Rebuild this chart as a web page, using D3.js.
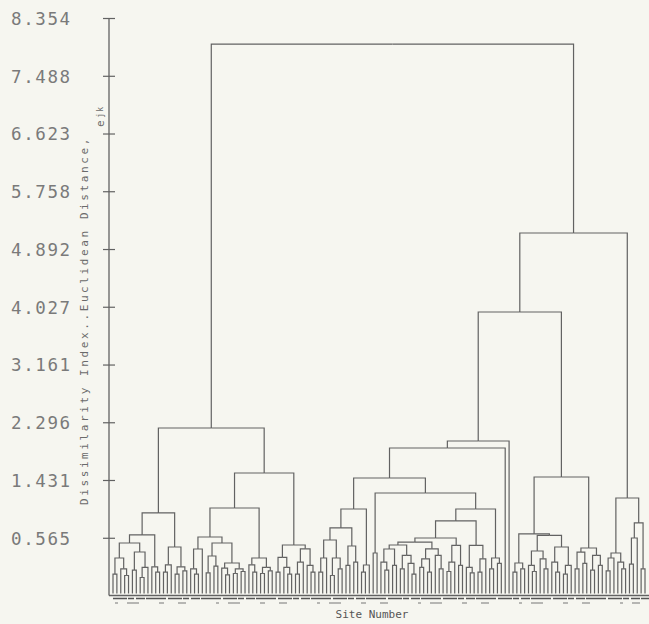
<!DOCTYPE html>
<html>
<head>
<meta charset="utf-8">
<script src="https://cdn.jsdelivr.net/npm/d3@7"></script>
<style>
  html, body { margin: 0; padding: 0; background: #f6f6f0; }
  svg { display: block; }
</style>
</head>
<body>
<div id="chart"></div>
<script>
// y axis ticks (dissimilarity values as printed)
var tickValues = [8.354, 7.488, 6.623, 5.758, 4.892, 4.027, 3.161, 2.296, 1.431, 0.565];
var tickLabels = ["8.354", "7.488", "6.623", "5.758", "4.892", "4.027", "3.161", "2.296", "1.431", "0.565"];
var axisBottomValue = -0.30;
var leafEndValue = -0.27;

// clusters: [mergeHeight, child, child], a leaf is 0
var clusterL1 = [0.937,
  [0.607,
    [0.487,
      [0.262, [0.02, 0, 0], [0.10, 0, [0.00, 0, 0]]],
      [0.352, [0.08, 0, 0], [0.12, [-0.03, 0, 0], 0]]],
    [0.13, 0, [0.05, 0, 0]]],
  [0.427,
    [0.16, [0.05, 0, 0], 0],
    [0.13, [0.02, 0, 0], [0.07, 0, 0]]]];

var clusterL2a1 = [0.577,
  [0.397, [0.10, 0, [0.02, 0, 0]], 0],
  [0.487,
    [0.292, [0.04, 0, 0], [0.14, 0, 0]],
    [0.187, [0.11, 0, [0.01, 0, 0]], [0.10, [0.03, 0, 0], [0.06, 0, 0]]]]];

var clusterL2a2 = [0.262, [0.16, 0, [0.05, 0, 0]], [0.12, [0.03, 0, 0], [0.07, 0, 0]]];

var clusterL2b = [0.457,
  [0.27, [0.05, 0, 0], [0.12, 0, [0.02, 0, 0]]],
  [0.40, [0.20, [0.02, 0, 0], 0], [0.15, 0, [0.05, 0, 0]]]];

var clusterM3 = [0.996,
  [0.712,
    [0.532, [0.262, [0.05, 0, 0], 0], [0.262, [0.00, 0, 0], [0.10, 0, 0]]],
    [0.442, [0.15, 0, 0], [0.20, 0, 0]]],
  [0.157, [0.05, 0, 0], 0]];

// chained (staircase) group in the middle
var clusterChain = [0.562,
  [0.50,
    [0.457,
      [0.397, [0.20, 0, [0.08, 0, 0]], [0.15, 0, 0]],
      [0.30, [0.10, 0, 0], [0.18, 0, [0.02, 0, 0]]]],
    [0.40, [0.25, [0.12, 0, 0], [0.05, 0, 0]], [0.30, 0, [0.10, 0, 0]]]],
  [0.45, [0.20, [0.06, 0, 0], 0], [0.15, 0, 0]]];

var clusterM4 = [1.236,
  [0.337, 0, 0],
  [0.996,
    [0.817,
      clusterChain,
      [0.45, [0.12, 0, [0.04, 0, 0]], [0.25, [0.05, 0, 0], 0]]],
    [0.262, [0.10, 0, 0], [0.18, 0, 0]]]];

var clusterR1b = [1.476,
  [0.622,
    [0.187, [0.05, 0, 0], [0.10, 0, 0]],
    [0.60,
      [0.367, [0.15, 0, [0.06, 0, 0]], [0.25, 0, [0.10, 0, 0]]],
      [0.427, [0.20, 0, [0.05, 0, 0]], [0.15, [0.02, 0, 0], 0]]]],
  [0.412,
    [0.35, [0.10, 0, 0], [0.18, 0, 0]],
    [0.30, [0.08, 0, 0], [0.15, 0, 0]]]];

var clusterR2 = [1.161,
  [0.337, [0.262, [0.07, 0, 0], 0], [0.20, 0, [0.10, 0, 0]]],
  [0.787, [0.562, [0.17, 0, 0], 0], [0.10, 0, 0]]];

// upper part of the tree
var tree = [7.964,
  [2.210, clusterL1, [1.536, [1.011, clusterL2a1, clusterL2a2], clusterL2b]],
  [5.132,
    [3.948, [2.015, [1.910, [1.461, clusterM3, clusterM4], 0], 0], clusterR1b],
    clusterR2]];

var screen = {width: 649, height: 624};
var axisX = 109;
var leafLeft = 113, leafRight = 645;
var lineColor = "#626262";

var svg = d3.select("#chart")
  .append("svg")
  .attr("width", screen.width)
  .attr("height", screen.height);

svg.append("rect")
  .attr("width", screen.width)
  .attr("height", screen.height)
  .attr("fill", "#f6f6f0");

var yScale = d3.scaleLinear()
  .domain([axisBottomValue, 8.354])
  .range([595.5, 18]);

// build hierarchy
var root = d3.hierarchy(tree, function(d) { return Array.isArray(d) ? d.slice(1) : null; });
var leaves = root.leaves();

var xScale = d3.scalePoint()
  .domain(d3.range(leaves.length))
  .range([leafLeft, leafRight]);

leaves.forEach(function(leaf, i) { leaf.px = xScale(i); });
root.eachAfter(function(node) {
  if (node.children) {
    node.px = d3.mean(node.children, function(c) { return c.px; });
    node.h = node.data[0];
  } else {
    node.h = leafEndValue;
  }
});

// draw the dendrogram elbows
var g = svg.append("g").attr("class", "dendro");
g.selectAll("path")
  .data(root.descendants().filter(function(d) { return d.parent; }))
  .enter()
  .append("path")
  .attr("d", function(d) {
    return "M" + d.px + "," + yScale(d.h) +
           "V" + yScale(d.parent.h) +
           "H" + d.parent.px;
  })
  .attr("fill", "none")
  .attr("stroke", lineColor)
  .attr("stroke-width", 1.2);

// y axis
var yAxis = d3.axisLeft(yScale)
  .tickValues(tickValues)
  .tickFormat(function(d, i) { return tickLabels[i]; })
  .tickSizeOuter(0)
  .tickSizeInner(6);

var axisG = svg.append("g")
  .attr("transform", "translate(" + axisX + ",0)")
  .call(yAxis);

axisG.select(".domain")
  .attr("d", "M0," + yScale(8.354) + "V" + yScale(axisBottomValue))
  .attr("stroke", lineColor)
  .attr("stroke-width", 1.3);

axisG.selectAll(".tick line")
  .attr("x1", -6)
  .attr("x2", 6)
  .attr("stroke", lineColor)
  .attr("stroke-width", 1.2);

axisG.selectAll(".tick text")
  .attr("x", 11 - axisX)
  .attr("dy", "0.36em")
  .attr("text-anchor", "start")
  .attr("fill", "#7a7a7a")
  .style("font-family", "'DejaVu Sans Mono', monospace")
  .style("font-size", "17.5px")
  .style("letter-spacing", "1.6px");

// baseline and the squeezed site labels under it
svg.append("line")
  .attr("x1", axisX).attr("x2", 649)
  .attr("y1", 595.5).attr("y2", 595.5)
  .attr("stroke", lineColor)
  .attr("stroke-width", 1.3);

svg.append("line")
  .attr("x1", leafLeft).attr("x2", 649)
  .attr("y1", 598.5).attr("y2", 598.5)
  .attr("stroke", "#555")
  .attr("stroke-width", 1.6)
  .attr("stroke-dasharray", "14 1 6 2 9 1 20 2");

svg.append("line")
  .attr("x1", leafLeft + 2).attr("x2", 640)
  .attr("y1", 603).attr("y2", 603)
  .attr("stroke", "#777")
  .attr("stroke-width", 1.1)
  .attr("stroke-dasharray", "3 9 12 20 5 14 8 30");

// axis titles
var yTitle = svg.append("text")
  .attr("transform", "translate(88,505) rotate(-90)")
  .attr("fill", "#6a6a6a")
  .style("font-family", "'DejaVu Sans Mono', monospace")
  .style("font-size", "11px")
  .style("letter-spacing", "2.6px");

yTitle.append("tspan").text("Dissimilarity Index..Euclidean Distance, ");
yTitle.append("tspan").attr("dy", 16).text("e");
yTitle.append("tspan").attr("dy", -1).style("font-size", "8px").style("letter-spacing", "1px").text("jk");

svg.append("text")
  .attr("x", 372)
  .attr("y", 618)
  .attr("text-anchor", "middle")
  .attr("fill", "#555")
  .style("font-family", "'DejaVu Sans Mono', monospace")
  .style("font-size", "11px")
  .text("Site Number");
</script>
</body>
</html>
